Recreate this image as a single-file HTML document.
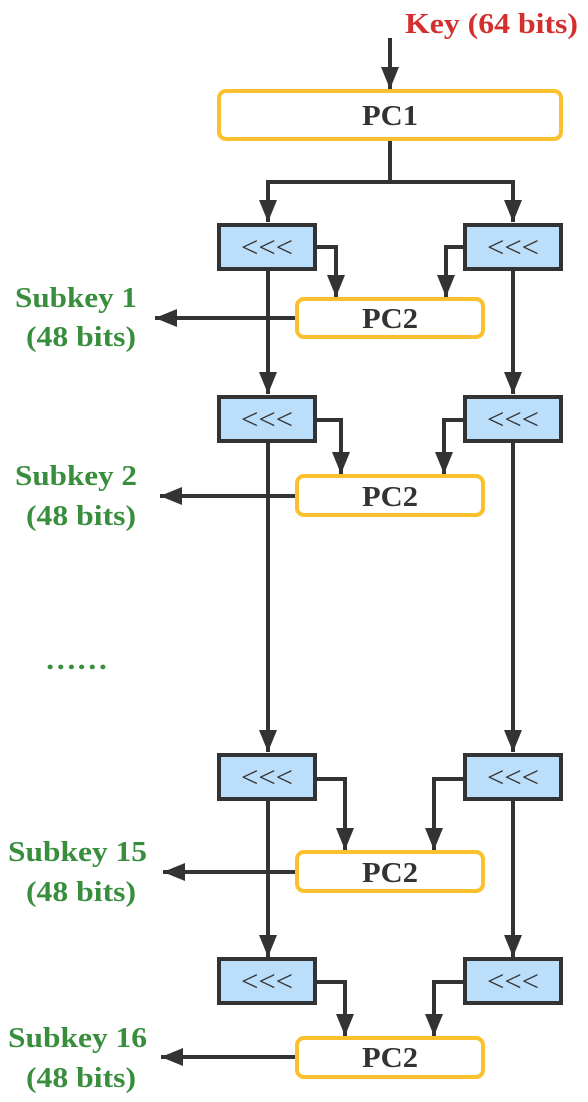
<!DOCTYPE html>
<html><head><meta charset="utf-8"><style>
html,body{margin:0;padding:0;background:#fff;}
svg{display:block;}
.t{font-family:"Liberation Serif",serif;font-weight:bold;}
</style></head><body>
<svg width="588" height="1102" viewBox="0 0 588 1102" xmlns="http://www.w3.org/2000/svg">
<defs>
<marker id="b" viewBox="0 0 22 18" markerWidth="22" markerHeight="18" refX="22" refY="9" orient="auto" markerUnits="userSpaceOnUse">
<path d="M0,0 L22,9 L0,18 Z" fill="#333"/>
</marker>
</defs>
<g stroke="#333" stroke-width="4" fill="none">
<line x1="390" y1="38" x2="390" y2="89" marker-end="url(#b)"/>
<polyline points="390,141 390,182 268,182 268,222" marker-end="url(#b)"/>
<polyline points="390,182 513,182 513,222" marker-end="url(#b)"/>
<line x1="268" y1="271" x2="268" y2="394" marker-end="url(#b)"/>
<line x1="513" y1="271" x2="513" y2="394" marker-end="url(#b)"/>
<line x1="268" y1="442" x2="268" y2="752" marker-end="url(#b)"/>
<line x1="513" y1="442" x2="513" y2="752" marker-end="url(#b)"/>
<line x1="268" y1="801" x2="268" y2="957" marker-end="url(#b)"/>
<line x1="513" y1="801" x2="513" y2="957" marker-end="url(#b)"/>
<polyline points="317,247 336,247 336,297" marker-end="url(#b)"/>
<polyline points="463,247 446,247 446,297" marker-end="url(#b)"/>
<polyline points="317,420 341,420 341,474" marker-end="url(#b)"/>
<polyline points="463,420 444,420 444,474" marker-end="url(#b)"/>
<polyline points="317,779 345,779 345,850" marker-end="url(#b)"/>
<polyline points="463,779 434,779 434,850" marker-end="url(#b)"/>
<polyline points="317,982 345,982 345,1036" marker-end="url(#b)"/>
<polyline points="463,982 434,982 434,1036" marker-end="url(#b)"/>
<line x1="296" y1="318" x2="155" y2="318" marker-end="url(#b)"/>
<line x1="296" y1="496" x2="160" y2="496" marker-end="url(#b)"/>
<line x1="296" y1="872" x2="163" y2="872" marker-end="url(#b)"/>
<line x1="296" y1="1057" x2="161" y2="1057" marker-end="url(#b)"/>
</g>
<rect x="219" y="91" width="342" height="48" rx="7" fill="#fff" stroke="#fbc02d" stroke-width="4"/>
<text x="362" y="125" textLength="56" lengthAdjust="spacingAndGlyphs" class="t" font-size="29" fill="#333">PC1</text>
<g fill="#fff" stroke="#fbc02d" stroke-width="4">
<rect x="297" y="299" width="186" height="38" rx="7"/>
<rect x="297" y="476" width="186" height="39" rx="7"/>
<rect x="297" y="852" width="186" height="39" rx="7"/>
<rect x="297" y="1038" width="186" height="39" rx="7"/>
</g>
<g class="t" font-size="29" fill="#333">
<text x="362" y="328" textLength="56" lengthAdjust="spacingAndGlyphs">PC2</text>
<text x="362" y="506" textLength="56" lengthAdjust="spacingAndGlyphs">PC2</text>
<text x="362" y="882" textLength="56" lengthAdjust="spacingAndGlyphs">PC2</text>
<text x="362" y="1067" textLength="56" lengthAdjust="spacingAndGlyphs">PC2</text>
</g>
<g fill="#bbdefb" stroke="#333" stroke-width="4">
<rect x="219" y="225" width="96" height="44"/>
<rect x="465" y="225" width="96" height="44"/>
<rect x="219" y="397" width="96" height="44"/>
<rect x="465" y="397" width="96" height="44"/>
<rect x="219" y="755" width="96" height="44"/>
<rect x="465" y="755" width="96" height="44"/>
<rect x="219" y="959" width="96" height="44"/>
<rect x="465" y="959" width="96" height="44"/>
</g>
<g font-family="Liberation Serif,serif" font-size="30" fill="#333">
<text x="241" y="257" textLength="52" lengthAdjust="spacingAndGlyphs">&lt;&lt;&lt;</text>
<text x="487" y="257" textLength="52" lengthAdjust="spacingAndGlyphs">&lt;&lt;&lt;</text>
<text x="241" y="429" textLength="52" lengthAdjust="spacingAndGlyphs">&lt;&lt;&lt;</text>
<text x="487" y="429" textLength="52" lengthAdjust="spacingAndGlyphs">&lt;&lt;&lt;</text>
<text x="241" y="787" textLength="52" lengthAdjust="spacingAndGlyphs">&lt;&lt;&lt;</text>
<text x="487" y="787" textLength="52" lengthAdjust="spacingAndGlyphs">&lt;&lt;&lt;</text>
<text x="241" y="991" textLength="52" lengthAdjust="spacingAndGlyphs">&lt;&lt;&lt;</text>
<text x="487" y="991" textLength="52" lengthAdjust="spacingAndGlyphs">&lt;&lt;&lt;</text>
</g>
<text x="405" y="33" textLength="173" lengthAdjust="spacingAndGlyphs" class="t" font-size="29" fill="#d32f2f">Key (64 bits)</text>
<g class="t" font-size="29" fill="#388e3c">
<text x="15" y="307" textLength="122" lengthAdjust="spacingAndGlyphs">Subkey 1</text>
<text x="26" y="346" textLength="110" lengthAdjust="spacingAndGlyphs">(48 bits)</text>
<text x="15" y="485" textLength="122" lengthAdjust="spacingAndGlyphs">Subkey 2</text>
<text x="26" y="525" textLength="110" lengthAdjust="spacingAndGlyphs">(48 bits)</text>
<text x="8" y="861" textLength="139" lengthAdjust="spacingAndGlyphs">Subkey 15</text>
<text x="26" y="901" textLength="110" lengthAdjust="spacingAndGlyphs">(48 bits)</text>
<text x="8" y="1047" textLength="139" lengthAdjust="spacingAndGlyphs">Subkey 16</text>
<text x="26" y="1087" textLength="110" lengthAdjust="spacingAndGlyphs">(48 bits)</text>
<text x="45" y="669" textLength="63" lengthAdjust="spacingAndGlyphs">……</text>
</g>
</svg>
</body></html>
